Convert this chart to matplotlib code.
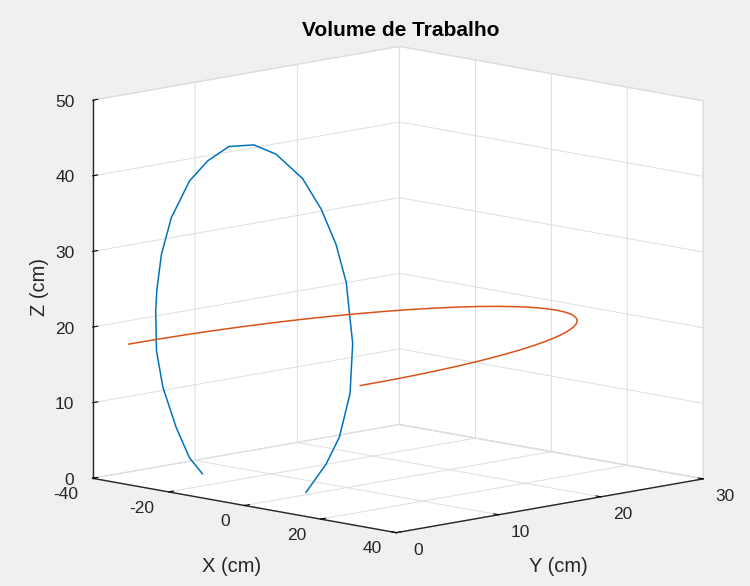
import matplotlib
matplotlib.use('Agg')
from matplotlib import pyplot as plt
from mpl_toolkits.mplot3d import proj3d

plt.rcParams['font.family'] = ['Liberation Sans', 'DejaVu Sans']
plt.rcParams['axes.unicode_minus'] = False
plt.rcParams['grid.color'] = '#dedede'
plt.rcParams['grid.linewidth'] = 0.7

# curva azul (plano XZ, y = 0)
braco_x = [-11.1, -14.5, -18.0, -21.5, -23.2, -23.4, -23.1, -21.9, -19.3, -14.5, -9.7,
           -4.1, 2.5, 8.3, 15.3, 20.2, 24.1, 26.8, 28.1, 28.5, 27.8, 25.0, 21.5, 16.2]
braco_y = [0.0] * len(braco_x)
braco_z = [3.2, 5.0, 8.7, 13.7, 18.4, 23.7, 26.4, 31.2, 36.3, 41.6, 44.7,
           47.1, 47.9, 47.2, 44.6, 41.0, 36.7, 31.9, 25.8, 24.0, 17.3, 11.3, 7.4, 3.2]

# curva laranja (plano horizontal, z constante)
base_x = [30.50, 30.38, 30.04, 29.46, 28.66, 27.64, 26.41, 24.98, 23.36, 21.57,
          19.61, 17.49, 15.25, 12.89, 10.43, 7.89, 5.30, 2.66, 0.00,
          -2.66, -5.30, -7.89, -10.43, -12.89, -15.25, -17.49, -19.61, -21.57,
          -23.36, -24.98, -26.41, -27.64, -28.66, -29.46, -30.04, -30.38, -30.50]
base_y = [0.00, 2.66, 5.30, 7.89, 10.43, 12.89, 15.25, 17.49, 19.61, 21.57,
          23.36, 24.98, 26.41, 27.64, 28.66, 29.46, 30.04, 30.38, 30.50,
          30.38, 30.04, 29.46, 28.66, 27.64, 26.41, 24.98, 23.36, 21.57,
          19.61, 17.49, 15.25, 12.89, 10.43, 7.89, 5.30, 2.66, 0.00]
base_z = [18.6] * len(base_x)

xticks = [-40, -20, 0, 20, 40]
yticks = [0, 10, 20, 30]
zticks = [0, 10, 20, 30, 40, 50]

fig = plt.figure(figsize=(7.5, 5.86), dpi=100)
fig.patch.set_facecolor('#f0f0f0')
ax = fig.add_axes([0.147, 0.015, 0.747, 0.956], projection='3d')
ax.set_facecolor('#f0f0f0')
ax.set_proj_type('ortho')
ax.view_init(elev=10.2, azim=-44.7)
ax.set_box_aspect((1, 1, 0.89), zoom=1.25)

ax.plot(braco_x, braco_y, braco_z, color='#0072BD', linewidth=1.1)
ax.plot(base_x, base_y, base_z, color='#D95319', linewidth=1.1)

ax.set_xlim(-40, 40)
ax.set_ylim(0, 30)
ax.set_zlim(0, 50)
ax.set_xticks(xticks)
ax.set_yticks(yticks)
ax.set_zticks(zticks)
ax.zaxis.set_ticks_position('lower')
ax.zaxis.set_label_position('lower')

for eixo in (ax.xaxis, ax.yaxis, ax.zaxis):
    eixo.set_tick_params(labelbottom=False)
    eixo.set_pane_color((1, 1, 1, 1))
    eixo.pane.set_edgecolor('#dedede')
    eixo.line.set_color('#262626')
    eixo.line.set_linewidth(1.0)
    eixo._axinfo['tick']['color'] = '#262626'
    eixo._axinfo['tick']['inward_factor'] = 0.0
    eixo._axinfo['tick']['outward_factor'] = 0.2

# desenha uma vez para ter a matriz de projecao
fig.canvas.draw()


def rotulo(x, y, z, texto, ha):
    px, py, _ = proj3d.proj_transform(x, y, z, ax.M)
    ax.text2D(px, py, texto, transform=ax.transData, ha=ha, va='center',
              fontsize=12.5, color='#262626')


# rotulos dos ticks no estilo do MATLAB
for v in xticks:
    rotulo(v, -1.4, -1.8, str(v), 'right')
for v in yticks:
    rotulo(45.8, v, -1.86, str(v), 'center')
for v in zticks:
    rotulo(-44.8, 0, v - 0.7, str(v), 'right')

cor_txt = '#262626'
fig.text(0.534, 0.948, 'Volume de Trabalho', fontsize=15, fontweight='bold',
         ha='center', va='center', color='black')
fig.text(0.309, 0.033, 'X (cm)', fontsize=14.5, ha='center', va='center', color=cor_txt)
fig.text(0.744, 0.033, 'Y (cm)', fontsize=14.5, ha='center', va='center', color=cor_txt)
fig.text(0.053, 0.510, 'Z (cm)', fontsize=14.5, ha='center', va='center', rotation=90,
         color=cor_txt)

fig.savefig('out.png', dpi=100, facecolor=fig.get_facecolor())
